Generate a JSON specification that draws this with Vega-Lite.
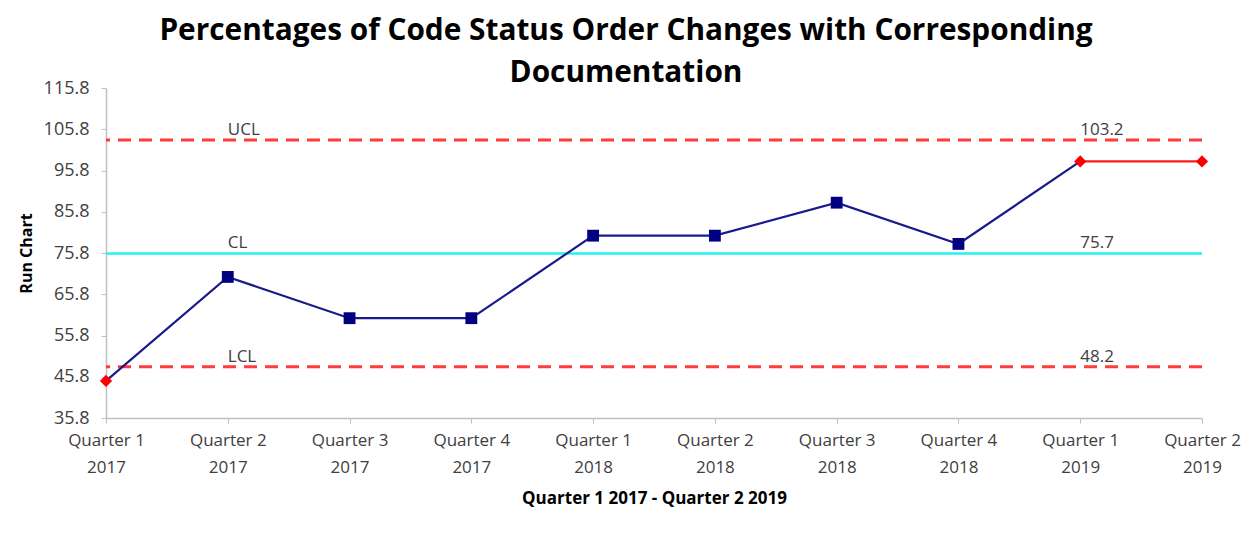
{
  "$schema": "https://vega.github.io/schema/vega-lite/v6.json",
  "autosize": {"type": "none"},
  "width": 1096,
  "height": 330,
  "padding": {"left": 106, "top": 88, "right": 51, "bottom": 115},
  "background": "white",
  "config": {"view": {"stroke": null}, "font": "Open Sans"},
  "title": {
    "text": ["Percentages of Code Status Order Changes with Corresponding", "Documentation"],
    "fontSize": 29.8,
    "fontWeight": "bold",
    "font": "Open Sans",
    "color": "#000000",
    "anchor": "middle",
    "baseline": "bottom",
    "offset": 8,
    "dx": -28,
    "dy": 47,
    "lineHeight": 42
  },
  "datasets": {
    "run": [
      {"quarter": "Quarter 1 2017", "value": 44.8, "status": "out"},
      {"quarter": "Quarter 2 2017", "value": 70.0, "status": "in"},
      {"quarter": "Quarter 3 2017", "value": 60.0, "status": "in"},
      {"quarter": "Quarter 4 2017", "value": 60.0, "status": "in"},
      {"quarter": "Quarter 1 2018", "value": 80.0, "status": "in"},
      {"quarter": "Quarter 2 2018", "value": 80.0, "status": "in"},
      {"quarter": "Quarter 3 2018", "value": 88.0, "status": "in"},
      {"quarter": "Quarter 4 2018", "value": 78.0, "status": "in"},
      {"quarter": "Quarter 1 2019", "value": 98.0, "status": "out"},
      {"quarter": "Quarter 2 2019", "value": 98.0, "status": "out"}
    ],
    "redline": [
      {"quarter": "Quarter 1 2019", "value": 98.0},
      {"quarter": "Quarter 2 2019", "value": 98.0}
    ],
    "limits": [
      {"name": "UCL", "value": 103.2, "labelAt": "Quarter 2 2017", "valueAt": "Quarter 1 2019", "kind": "limit"},
      {"name": "CL", "value": 75.7, "labelAt": "Quarter 2 2017", "valueAt": "Quarter 1 2019", "kind": "center"},
      {"name": "LCL", "value": 48.2, "labelAt": "Quarter 2 2017", "valueAt": "Quarter 1 2019", "kind": "limit"}
    ]
  },
  "encoding": {
    "x": {
      "field": "quarter",
      "type": "ordinal",
      "sort": null,
      "scale": {"type": "point", "padding": 0, "domain": ["Quarter 1 2017", "Quarter 2 2017", "Quarter 3 2017", "Quarter 4 2017", "Quarter 1 2018", "Quarter 2 2018", "Quarter 3 2018", "Quarter 4 2018", "Quarter 1 2019", "Quarter 2 2019"]},
      "axis": {
        "title": "Quarter 1 2017 - Quarter 2 2019",
        "titleFont": "Open Sans",
        "titleFontSize": 17,
        "titleFontWeight": "bold",
        "titleColor": "#000000",
        "titlePadding": 15,
        "labelExpr": "[slice(datum.label, 0, 9), slice(datum.label, 10)]",
        "labelAngle": 0,
        "labelFont": "Open Sans",
        "labelFontSize": 17,
        "labelColor": "#404040",
        "labelLineHeight": 27,
        "labelPadding": 9,
        "labelBaseline": "top",
        "labelOverlap": false,
        "labelBound": false,
        "tickSize": 5,
        "tickColor": "#BFBFBF",
        "domainColor": "#BFBFBF",
        "domainWidth": 1.5,
        "grid": false
      }
    },
    "y": {
      "field": "value",
      "type": "quantitative",
      "scale": {"domain": [35.8, 115.8], "nice": false, "zero": false},
      "axis": {
        "title": "Run Chart",
        "titleFont": "Open Sans",
        "titleFontSize": 16,
        "titleFontWeight": "bold",
        "titleColor": "#000000",
        "titlePadding": 9,
        "values": [35.8, 45.8, 55.8, 65.8, 75.8, 85.8, 95.8, 105.8, 115.8],
        "format": ".1f",
        "labelFont": "Open Sans",
        "labelFontSize": 18,
        "labelColor": "#404040",
        "labelPadding": 12,
        "labelOverlap": false,
        "tickSize": 5,
        "tickColor": "#BFBFBF",
        "domainColor": "#BFBFBF",
        "domainWidth": 1.5,
        "grid": false
      }
    }
  },
  "layer": [
    {
      "data": {"name": "limits"},
      "transform": [{"filter": "datum.kind == 'limit'"}],
      "mark": {"type": "rule", "color": "#FF3B3B", "strokeWidth": 3, "strokeDash": [13, 8]},
      "encoding": {"x": null, "y": {"field": "value", "type": "quantitative"}}
    },
    {
      "data": {"name": "limits"},
      "transform": [{"filter": "datum.kind == 'center'"}],
      "mark": {"type": "rule", "color": "#22F2F2", "strokeWidth": 2.5},
      "encoding": {"x": null, "y": {"field": "value", "type": "quantitative"}}
    },
    {
      "data": {"name": "limits"},
      "mark": {"type": "text", "align": "left", "baseline": "bottom", "dy": -1, "fontSize": 17, "color": "#404040", "font": "Open Sans"},
      "encoding": {
        "x": {"field": "labelAt", "type": "ordinal"},
        "y": {"field": "value", "type": "quantitative"},
        "text": {"field": "name"}
      }
    },
    {
      "data": {"name": "limits"},
      "mark": {"type": "text", "align": "left", "baseline": "bottom", "dy": -1, "fontSize": 17, "color": "#404040", "font": "Open Sans"},
      "encoding": {
        "x": {"field": "valueAt", "type": "ordinal"},
        "y": {"field": "value", "type": "quantitative"},
        "text": {"field": "value", "format": ".1f"}
      }
    },
    {
      "data": {"name": "run"},
      "transform": [{"filter": "datum.quarter != 'Quarter 2 2019'"}],
      "mark": {"type": "line", "color": "#1A1A8C", "strokeWidth": 2.2},
      "encoding": {}
    },
    {
      "data": {"name": "redline"},
      "mark": {"type": "line", "color": "#FF1A1A", "strokeWidth": 2.2},
      "encoding": {}
    },
    {
      "data": {"name": "run"},
      "transform": [{"filter": "datum.status == 'in'"}],
      "mark": {"type": "point", "shape": "square", "filled": true, "size": 140, "color": "#000080", "opacity": 1},
      "encoding": {}
    },
    {
      "data": {"name": "run"},
      "transform": [{"filter": "datum.status == 'out'"}],
      "mark": {"type": "point", "shape": "diamond", "filled": true, "size": 150, "color": "#FF0000", "opacity": 1},
      "encoding": {}
    }
  ]
}
